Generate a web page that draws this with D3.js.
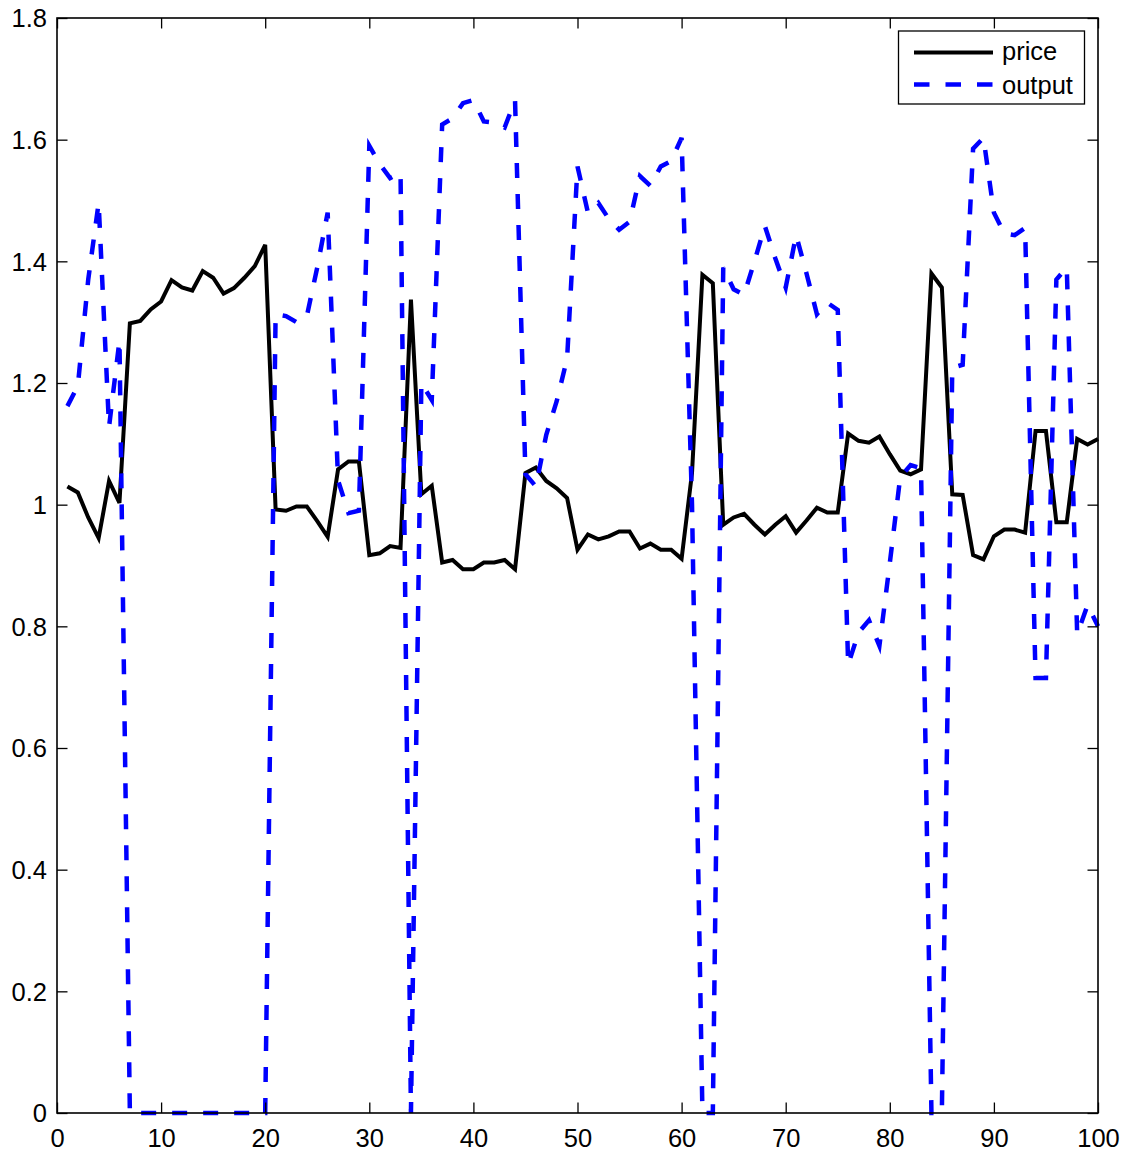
<!DOCTYPE html>
<html>
<head>
<meta charset="utf-8">
<script src="https://cdn.jsdelivr.net/npm/d3@7"></script>
<style>
  html, body { margin: 0; padding: 0; background: #fff; }
  svg { display: block; }
  text { font-family: "Liberation Sans", Arial, Helvetica, sans-serif; }
</style>
</head>
<body>
<svg id="chart" width="1127" height="1153"></svg>
<script>
// ---- data ----
const periods = d3.range(1, 101);

const price = [
  1.030, 1.020, 0.979, 0.945, 1.039, 1.003, 1.298, 1.302, 1.321, 1.334,
  1.369, 1.357, 1.352, 1.384, 1.373, 1.347, 1.356, 1.373, 1.392, 1.427,
  0.992, 0.990, 0.997, 0.997, 0.973, 0.947, 1.058, 1.071, 1.071, 0.917,
  0.920, 0.932, 0.929, 1.337, 1.017, 1.031, 0.905, 0.909, 0.894, 0.894,
  0.905, 0.905, 0.909, 0.894, 1.052, 1.061, 1.039, 1.027, 1.011, 0.926,
  0.951, 0.943, 0.948, 0.956, 0.956, 0.928, 0.936, 0.926, 0.926, 0.911,
  1.052, 1.378, 1.364, 0.967, 0.979, 0.985, 0.967, 0.951, 0.967, 0.981,
  0.954, 0.974, 0.995, 0.987, 0.987, 1.117, 1.105, 1.102, 1.112, 1.083,
  1.056, 1.050, 1.058, 1.380, 1.357, 1.017, 1.016, 0.917, 0.910, 0.948,
  0.959, 0.959, 0.954, 1.121, 1.121, 0.971, 0.971, 1.108, 1.099, 1.108
];

const output = [
  1.162, 1.195, 1.370, 1.496, 1.128, 1.270, 0, 0, 0, 0,
  0, 0, 0, 0, 0, 0, 0, 0, 0, 0,
  1.313, 1.310, 1.300, 1.310, 1.390, 1.480, 1.040, 0.986, 0.990, 1.590,
  1.560, 1.537, 1.546, 0, 1.200, 1.172, 1.625, 1.635, 1.660, 1.665,
  1.630, 1.628, 1.620, 1.665, 1.050, 1.030, 1.115, 1.170, 1.240, 1.556,
  1.480, 1.496, 1.470, 1.452, 1.465, 1.540, 1.524, 1.556, 1.565, 1.603,
  1.000, 0, 0, 1.390, 1.354, 1.345, 1.400, 1.458, 1.405, 1.357,
  1.443, 1.380, 1.313, 1.332, 1.320, 0.737, 0.790, 0.810, 0.768, 0.904,
  1.045, 1.065, 1.060, 0, 0, 1.225, 1.230, 1.585, 1.603, 1.480,
  1.446, 1.443, 1.455, 0.715, 0.715, 1.370, 1.390, 0.787, 0.835, 0.800
];

const xTicks = [0, 10, 20, 30, 40, 50, 60, 70, 80, 90, 100];
const yTicks = [0, 0.2, 0.4, 0.6, 0.8, 1.0, 1.2, 1.4, 1.6, 1.8];
const yTickLabels = ["0", "0.2", "0.4", "0.6", "0.8", "1", "1.2", "1.4", "1.6", "1.8"];
const seriesNames = ["price", "output"];

// ---- layout ----
const L = 57, R = 1098, T = 18, B = 1113;
const FS = 25.5;
const TICK = 10.5;

const svg = d3.select("#chart");
const x = d3.scaleLinear().domain([0, 100]).range([L, R]);
const y = d3.scaleLinear().domain([0, 1.8]).range([B, T]);

// background
svg.append("rect").attr("x", 0).attr("y", 0).attr("width", 1127).attr("height", 1153).attr("fill", "#fff");

// series
const line = d3.line().x((d, i) => x(periods[i])).y(d => y(d));

svg.append("path")
  .datum(price)
  .attr("d", line)
  .attr("fill", "none")
  .attr("stroke", "#000")
  .attr("stroke-width", 4)
  .attr("stroke-linejoin", "miter");

svg.append("path")
  .datum(output)
  .attr("d", line)
  .attr("fill", "none")
  .attr("stroke", "#0000ff")
  .attr("stroke-width", 4.5)
  .attr("stroke-dasharray", "15,16")
  .attr("stroke-linejoin", "miter");

// axes with inward ticks
function styleAxis(g) {
  g.select(".domain").remove();
  g.selectAll(".tick line").attr("stroke", "#000").attr("stroke-width", 1.3);
  g.selectAll("text").attr("font-size", FS).attr("fill", "#000")
    .attr("font-family", "'Liberation Sans', Arial, Helvetica, sans-serif");
}

const gx = svg.append("g").attr("transform", `translate(0,${B})`)
  .call(d3.axisBottom(x).tickValues(xTicks).tickSizeInner(-TICK).tickSizeOuter(0).tickFormat(d3.format("d")));
styleAxis(gx);
gx.selectAll("text").attr("y", 34).attr("dy", 0);

const gy = svg.append("g").attr("transform", `translate(${L},0)`)
  .call(d3.axisLeft(y).tickValues(yTicks).tickSizeInner(-TICK).tickSizeOuter(0)
    .tickFormat((d, i) => yTickLabels[i]));
styleAxis(gy);
gy.selectAll("text").attr("x", -10).attr("dy", "0.35em");

const gt = svg.append("g").attr("transform", `translate(0,${T})`)
  .call(d3.axisTop(x).tickValues(xTicks).tickSizeInner(-TICK).tickSizeOuter(0).tickFormat(""));
styleAxis(gt);

const gr = svg.append("g").attr("transform", `translate(${R},0)`)
  .call(d3.axisRight(y).tickValues(yTicks).tickSizeInner(-TICK).tickSizeOuter(0).tickFormat(""));
styleAxis(gr);

// frame
svg.append("rect")
  .attr("x", L).attr("y", T).attr("width", R - L).attr("height", B - T)
  .attr("fill", "none").attr("stroke", "#000").attr("stroke-width", 1.6);

// legend
const lg = svg.append("g");
lg.append("rect")
  .attr("x", 898.5).attr("y", 31).attr("width", 186).attr("height", 73)
  .attr("fill", "#fff").attr("stroke", "#000").attr("stroke-width", 1.3);
const legendItems = [
  { name: seriesNames[0], color: "#000", dash: null, w: 4, ly: 52.5, ty: 60 },
  { name: seriesNames[1], color: "#0000ff", dash: "15.5,16", w: 4.5, ly: 84.5, ty: 93.5 }
];
legendItems.forEach(it => {
  const l = lg.append("line")
    .attr("x1", 914).attr("x2", 993).attr("y1", it.ly).attr("y2", it.ly)
    .attr("stroke", it.color).attr("stroke-width", it.w);
  if (it.dash) l.attr("stroke-dasharray", it.dash);
  lg.append("text").attr("x", 1002).attr("y", it.ty)
    .attr("font-size", FS).attr("fill", "#000").text(it.name);
});
</script>
</body>
</html>
